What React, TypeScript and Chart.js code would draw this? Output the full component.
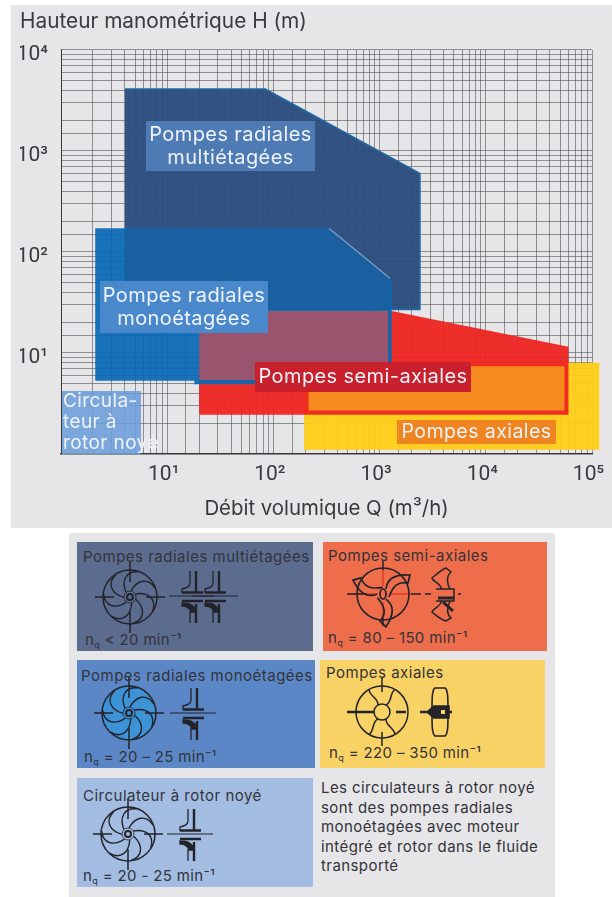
import React, { useEffect, useRef } from "react";
import { Chart, registerables } from "chart.js";

Chart.register(...registerables);

const FONT = "Inter, 'Noto Sans', sans-serif";
const TICK_FONT = "Roboto, Inter, sans-serif";
const INK = "#3a3a3e";

// Operating regions: flow Q (m3/h), head H (m)
const multiQ = [4, 84, 2400, 2400, 4];
const multiH = [4100, 4100, 600, 27, 27];
const monoQ = [2.1, 333, 1250, 1300, 1300, 18, 18, 2.1];
const monoH = [172, 172, 55, 50, 4.9, 4.9, 5.3, 5.3];
const monoEdgeQ = [333, 1250];
const monoEdgeH = [172, 55];
const monoMultiQ = [4, 333, 1250, 1250, 4];
const monoMultiH = [172, 172, 55, 27, 27];
const semiQ = [20, 1300, 60000, 60000, 20];
const semiH = [26, 26, 11.5, 2.45, 2.45];
const axialQ = [195, 117000, 117000, 195];
const axialH = [8, 8, 1.1, 1.1];
const monoSemiQ = [20, 1200, 1200, 20];
const monoSemiH = [26, 26, 5.4, 5.4];
const semiAxialQ = [215, 55000, 55000, 215];
const semiAxialH = [7.4, 7.4, 2.7, 2.7];

const yTitle = "Hauteur manométrique H (m)";
const xTitle = "Débit volumique Q (m³/h)";
const xTickLabels: Record<number, string> = { 10: "10¹", 100: "10²", 1000: "10³", 10000: "10⁴", 100000: "10⁵" };
const yTickLabels: Record<number, string> = { 10: "10¹", 100: "10²", 1000: "10³", 10000: "10⁴" };

const zip = (q: number[], h: number[]) => q.map((x, i) => ({ x, y: h[i] }));

const area = (data: { x: number; y: number }[], color: string, border = color, borderWidth = 0) => ({
  data,
  showLine: true,
  fill: "shape",
  clip: false,
  backgroundColor: color,
  borderColor: border,
  borderWidth,
  pointRadius: 0,
  tension: 0,
});

type Tag = { lines: string[]; box: number[]; color: string; align: string; size: number; lh: number };
const tags: Tag[] = [
  { lines: ["Pompes radiales", "multiétagées"], box: [146, 121, 169, 50], color: "#4f7bb5", align: "center", size: 20, lh: 23 },
  { lines: ["Pompes radiales", "monoétagées"], box: [100, 281, 168, 52], color: "#4a88cc", align: "center", size: 20, lh: 23 },
  { lines: ["Pompes semi-axiales"], box: [255, 362, 216, 30], color: "#c8202c", align: "center", size: 20, lh: 23 },
  { lines: ["Pompes axiales"], box: [397, 420, 159, 24], color: "#ef8420", align: "center", size: 19.6, lh: 23 },
  { lines: ["Circula-", "teur à", "rotor noyé"], box: [62, 391, 79, 63], color: "rgba(112,160,220,0.9)", align: "left", size: 19, lh: 21 },
];

// The yellow region runs a little past the right edge of the grid, as in the source figure.
let savedRight = 0;
const overhangPlugin = {
  id: "overhang",
  beforeDatasetsDraw(chart: any) {
    savedRight = chart.chartArea.right;
    chart.chartArea.right = savedRight + 10;
  },
  afterDatasetsDraw(chart: any) {
    chart.chartArea.right = savedRight;
  },
};

const tagPlugin = {
  id: "tags",
  afterDatasetsDraw(chart: any) {
    const { ctx } = chart;
    ctx.save();
    for (const t of tags) {
      const [x, y, w, h] = t.box;
      ctx.fillStyle = t.color;
      ctx.fillRect(x, y, w, h);
      ctx.font = `${t.size}px ${FONT}`;
      ctx.letterSpacing = "0.4px";
      ctx.fillStyle = "#eef3fa";
      ctx.textBaseline = "middle";
      ctx.textAlign = t.align;
      const tx = t.align === "center" ? x + w / 2 : x + 1;
      const y0 = y + h / 2 - ((t.lines.length - 1) * t.lh) / 2;
      t.lines.forEach((l, i) => ctx.fillText(l, tx, y0 + i * t.lh));
    }
    ctx.restore();
  },
};

const cards = [
  { box: [77, 542, 236, 109], color: "#5c6c8f" },
  { box: [77, 660, 238, 108], color: "#5b87c6" },
  { box: [323, 542, 224, 109], color: "#ee6e4c" },
  { box: [320, 660, 225, 108], color: "#f8d265" },
  { box: [77, 778, 236, 109], color: "#a2bde1" },
];
const cardTitles = [
  { text: "Pompes radiales multiétagées", x: 83, y: 562 },
  { text: "Pompes radiales monoétagées", x: 81, y: 681 },
  { text: "Pompes semi-axiales", x: 328, y: 561 },
  { text: "Pompes axiales", x: 326, y: 678 },
  { text: "Circulateur à rotor noyé", x: 83, y: 801 },
];
const cardSpeeds = [
  { text: " < 20 min⁻¹", x: 85, y: 645 },
  { text: " = 20 – 25 min⁻¹", x: 84, y: 762 },
  { text: " = 80 – 150 min⁻¹", x: 328, y: 643 },
  { text: " = 220 – 350 min⁻¹", x: 329, y: 758 },
  { text: " = 20 - 25 min⁻¹", x: 83, y: 881 },
];
const note = [
  "Les circulateurs à rotor noyé",
  "sont des pompes radiales",
  "monoétagées avec moteur",
  "intégré et rotor dans le fluide",
  "transporté",
];

const STROKE = "#23232a";

function Cross({ r = 27 }: { r?: number }) {
  return (
    <g stroke={STROKE} strokeWidth={1.5} fill="none">
      <circle r={r} />
      <path d={`M${-r - 8} 0H${-r + 11}M${r - 11} 0H${r + 8}M0 ${-r - 9}V${-r + 12}M0 ${r - 12}V${r + 9}`} />
    </g>
  );
}

function Impeller({ x, y, fill }: { x: number; y: number; fill?: string }) {
  const blades = [0, 51, 103, 154, 206, 257, 309];
  return (
    <g transform={`translate(${x} ${y})`}>
      {fill && <circle r={27} fill={fill} />}
      <Cross />
      <g stroke={STROKE} strokeWidth={1.4} fill="none">
        {blades.map((a) => (
          <path key={a} transform={`rotate(${a})`} d="M1 -6C7 -17 18 -20 25 -9" />
        ))}
        <circle r={3} strokeWidth={2} />
        <circle r={6} strokeWidth={0.8} />
      </g>
    </g>
  );
}

function Side({ x, y }: { x: number; y: number }) {
  return (
    <g transform={`translate(${x} ${y})`} stroke={STROKE} fill="none" strokeWidth={1.3}>
      <path d="M-2 -25V-13C-2 -9 -6 -8 -10 -7V-3" />
      <path d="M4 -25V-4M-10 -3.5H11M-10 5H11M4 8V27" strokeWidth={2.4} />
      <path d="M-23 0H23" strokeWidth={1.1} />
      <path d="M-10 7C-2 7 3 10 4 16L-1 16C-2 12 -6 10 -10 10Z" fill={STROKE} />
      <path d="M-2 15V27" />
    </g>
  );
}

function SemiIcon({ x, y }: { x: number; y: number }) {
  return (
    <g>
      <g transform={`translate(${x} ${y})`}>
        <path d="M-34 0H-8M8 0H28M0 -27V-8M0 8V27" stroke="#e23a2c" strokeWidth={2} opacity={0.75} />
        <path d={`M-36 0H-16M0 -34V-24M0 24V32`} stroke={STROKE} strokeWidth={1.5} />
        <circle r={26} fill="none" stroke={STROKE} strokeWidth={1.6} />
        <g stroke={STROKE} strokeWidth={1.7} fill="none">
          {[0, 120, 240].map((a) => (
            <path key={a} transform={`rotate(${a})`} d="M3 -5C4 -15 12 -20 27 -19L25 -11C15 -13 10 -8 6 3" />
          ))}
          <ellipse rx={3} ry={5} />
        </g>
      </g>
      <g transform={`translate(${x + 62} ${y})`} stroke={STROKE} strokeWidth={1.5} fill="none">
        <path d="M-34 0H-24M-20 0H-14M-9 -5H9V7H-9M-4 -5C-3 -10 -12 -12 -13 -16C-8 -20 -4 -24 1 -26L6 -22C1 -18 2 -10 5 -5" />
        <path d="M-4 7C-3 12 -12 14 -13 18C-8 22 -4 26 1 27L6 24C1 20 2 14 5 7" />
        <path d="M-7 4H9M-2 8L8 17" strokeWidth={3} />
        <path d="M13 0H16" />
      </g>
    </g>
  );
}

function AxialIcon({ x, y }: { x: number; y: number }) {
  return (
    <g>
      <g transform={`translate(${x} ${y})`} stroke={STROKE} strokeWidth={1.5} fill="none">
        <circle r={26} />
        <path d="M0 -34V-20M0 20V34" />
        <circle r={8} />
        {[30, 150, 210, 330].map((a) => (
          <path key={a} transform={`rotate(${a})`} d="M0 -8C4 -14 -3 -20 0 -26" />
        ))}
        <path d="M-35 0H-8M14 0H24" strokeWidth={2.3} />
      </g>
      <g transform={`translate(${x + 58} ${y})`} stroke={STROKE} fill="none" strokeWidth={1.6}>
        <path d="M-5 -24C-8 -22 -8 -14 -8 0C-8 14 -8 22 -5 24H5C8 22 8 14 8 0C8 -14 8 -22 5 -24Z" />
        <path d="M-13 0L-6 -6H9V6H-6Z" fill={STROKE} />
        <rect x={1} y={-2} width={4} height={4} fill="#f8d265" stroke="none" />
        <path d="M-20 0H-13M9 0H12" strokeWidth={2.3} />
      </g>
    </g>
  );
}

function Legend() {
  const textProps = { fontFamily: FONT, fontSize: 15, fill: "#33333a", letterSpacing: 0.5 };
  return (
    <svg width={612} height={897} style={{ position: "absolute", left: 0, top: 0 }}>
      <rect x={69} y={533} width={486} height={364} fill="#e6e6e8" />
      {cards.map((c, i) => (
        <rect key={i} x={c.box[0]} y={c.box[1]} width={c.box[2]} height={c.box[3]} fill={c.color} />
      ))}
      <Impeller x={130} y={597} />
      <Side x={192} y={596} />
      <Side x={215} y={596} />
      <Impeller x={129} y={713} fill="#3d93d6" />
      <Side x={193} y={713} />
      <Impeller x={128} y={834} />
      <Side x={190} y={834} />
      <SemiIcon x={383} y={594} />
      <AxialIcon x={382} y={712} />
      {cardTitles.map((t) => (
        <text key={t.text} x={t.x} y={t.y} {...textProps}>
          {t.text}
        </text>
      ))}
      {cardSpeeds.map((t) => (
        <text key={t.x + "-" + t.y} x={t.x} y={t.y} {...textProps} letterSpacing={0.35} xmlSpace="preserve">
          n
          <tspan fontSize={9} dy={3}>
            q
          </tspan>
          <tspan dy={-3}>{t.text}</tspan>
        </text>
      ))}
      {note.map((l, i) => (
        <text key={l} x={321} y={793 + i * 19.5} {...textProps} letterSpacing={0.42}>
          {l}
        </text>
      ))}
    </svg>
  );
}

export default function App() {
  const ref = useRef<HTMLCanvasElement>(null);
  useEffect(() => {
    const grid = { color: "rgba(70,70,74,0.55)", lineWidth: 1, drawTicks: false };
    const chart = new Chart(ref.current!, {
      type: "scatter",
      data: {
        datasets: [
          area(zip(semiAxialQ, semiAxialH), "#f58a1f"),
          area(zip(monoSemiQ, monoSemiH), "rgba(160,84,106,0.95)"),
          { ...area(zip(monoEdgeQ, monoEdgeH), "#7f9fc4", "#7f9fc4", 1.2), fill: false },
          area(zip(monoMultiQ, monoMultiH), "rgba(27,96,160,0.95)"),
          area(zip(monoQ, monoH), "rgba(8,104,180,0.92)"),
          area(zip(multiQ, multiH), "rgba(44,78,126,0.96)", "#1f6aa6", 1.5),
          area(zip(semiQ, semiH), "rgba(238,38,34,0.96)"),
          area(zip(axialQ, axialH), "rgba(255,204,20,0.94)"),
        ] as any,
      },
      options: {
        animation: false,
        responsive: false,
        events: [],
        layout: { padding: { left: 20, right: 20, top: 0, bottom: 0 } },
        plugins: {
          legend: { display: false },
          tooltip: { enabled: false },
          title: {
            display: true,
            text: yTitle,
            align: "start",
            color: INK,
            font: { family: FONT, size: 20.8, weight: "normal" },
            padding: { top: 9, bottom: 16 },
          },
        },
        scales: {
          x: {
            type: "logarithmic",
            min: 1,
            max: 100000,
            grid,
            border: { color: "#38383c", width: 1.5 },
            afterFit: (s: any) => {
              s.height = 76;
              s.paddingRight = 0;
              s.paddingLeft = 0;
            },
            ticks: {
              autoSkip: false,
              maxRotation: 0,
              padding: 8,
              labelOffset: -3.5,
              color: INK,
              font: { family: TICK_FONT, size: 21 },
              callback: (v: any) => xTickLabels[Number(v)] ?? "",
            },
            title: {
              display: true,
              text: xTitle,
              color: INK,
              font: { family: FONT, size: 20.4 },
              padding: { top: 0, bottom: 9 },
            },
          },
          y: {
            type: "logarithmic",
            min: 1,
            max: 10000,
            grid,
            border: { color: "#38383c", width: 1 },
            afterFit: (s: any) => {
              s.width = 41;
              s.paddingTop = 0;
              s.paddingBottom = 0;
            },
            ticks: {
              autoSkip: false,
              padding: 13,
              labelOffset: 5,
              color: INK,
              font: { family: TICK_FONT, size: 21 },
              callback: (v: any) => yTickLabels[Number(v)] ?? "",
            },
          },
        },
      } as any,
      plugins: [overhangPlugin, tagPlugin],
    });
    return () => chart.destroy();
  }, []);
  return (
    <div style={{ position: "absolute", left: 0, top: 0, width: 612, height: 897, overflow: "hidden", background: "#fff", filter: "blur(0.4px)" }}>
      <div style={{ position: "absolute", left: 11, top: 5, width: 601, height: 523, background: "#e6e6e8" }} />
      <canvas ref={ref} width={612} height={530} style={{ position: "absolute", left: 0, top: 0 }} />
      <Legend />
    </div>
  );
}
